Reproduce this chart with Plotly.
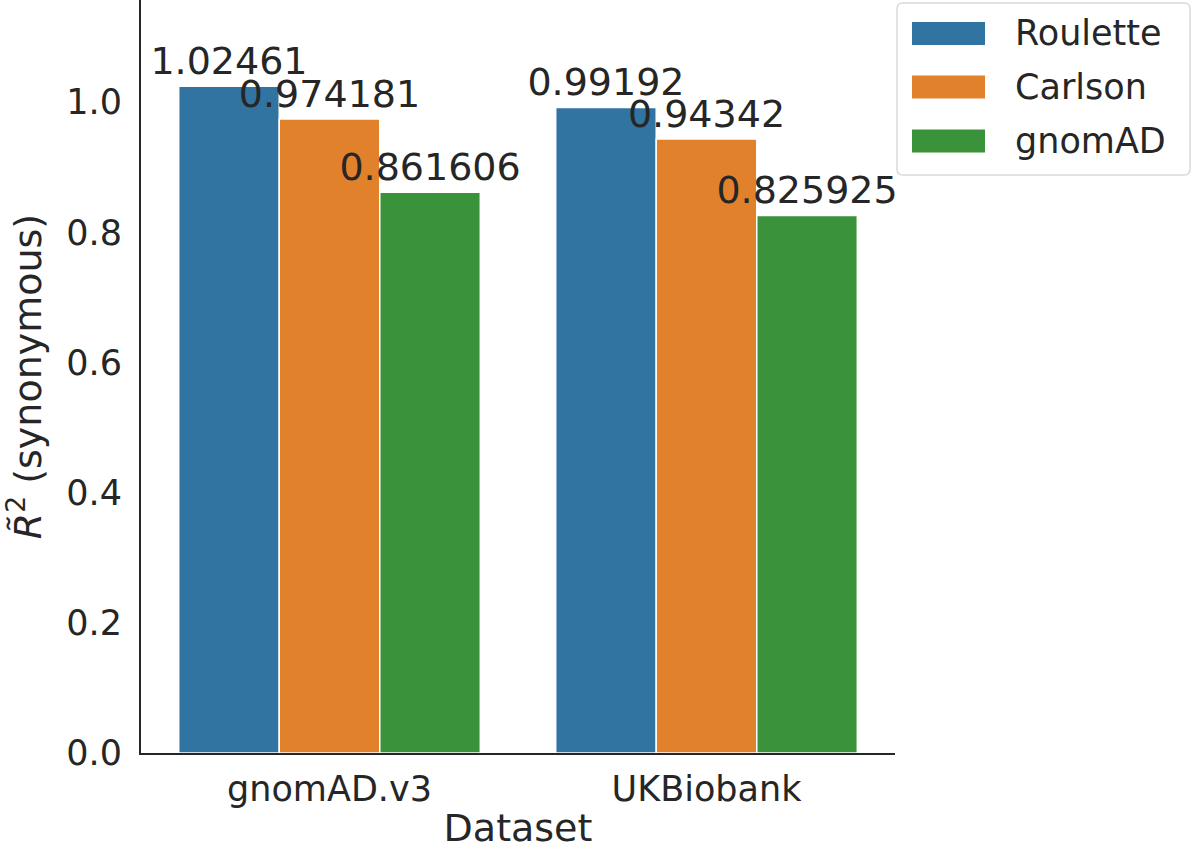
import plotly.graph_objects as go

datasets = ["gnomAD.v3", "UKBiobank"]
methods = ["Roulette", "Carlson", "gnomAD"]
roulette = [1.02461, 0.99192]
carlson = [0.974181, 0.94342]
gnomad = [0.861606, 0.825925]
label_roulette = ["1.02461", "0.99192"]
label_carlson = ["0.974181", "0.94342"]
label_gnomad = ["0.861606", "0.825925"]
colors = ["#3274a1", "#e1812c", "#3a923a"]

values = [roulette, carlson, gnomad]
labels = [label_roulette, label_carlson, label_gnomad]

FONT = "DejaVu Sans"
INK = "#262626"

fig = go.Figure()
for name, vals, labs, col in zip(methods, values, labels, colors):
    fig.add_trace(go.Bar(
        x=datasets, y=vals, name=name,
        marker=dict(color=col, line=dict(color="white", width=1.5)),
        text=labs, textposition="outside", constraintext="none",
        textfont=dict(family=FONT, size=38, color=INK),
        cliponaxis=False, showlegend=False,
    ))

# plot area in pixels
L, R, T, B = 141, 895, 0, 753
W, H = R - L, B - T

def px(x):
    return (x - L) / W

def py(y):
    return (B - y) / H

shapes = []
annotations = []
# legend box with rounded corners
bx0, bx1, by0, by1 = 897, 1190, 3, 175
r = 6
path = (
    f"M {px(bx0 + r)},{py(by0)} L {px(bx1 - r)},{py(by0)} "
    f"Q {px(bx1)},{py(by0)} {px(bx1)},{py(by0 + r)} "
    f"L {px(bx1)},{py(by1 - r)} Q {px(bx1)},{py(by1)} {px(bx1 - r)},{py(by1)} "
    f"L {px(bx0 + r)},{py(by1)} Q {px(bx0)},{py(by1)} {px(bx0)},{py(by1 - r)} "
    f"L {px(bx0)},{py(by0 + r)} Q {px(bx0)},{py(by0)} {px(bx0 + r)},{py(by0)} Z"
)
shapes.append(dict(type="path", xref="paper", yref="paper", path=path,
                   line=dict(color="#d9d9d9", width=1.5), fillcolor="white"))
centers = [33.5, 87, 141]
for name, col, cy in zip(methods, colors, centers):
    shapes.append(dict(type="rect", xref="paper", yref="paper",
                       x0=px(912), x1=px(985), y0=py(cy + 11.5), y1=py(cy - 11.5),
                       fillcolor=col, line=dict(width=0)))
    annotations.append(dict(xref="paper", yref="paper", x=px(1013), y=py(cy),
                            xanchor="left", yanchor="middle", text=name,
                            showarrow=False,
                            font=dict(family=FONT, size=35, color=INK)))

fig.update_layout(
    width=1200, height=850,
    margin=dict(l=L, r=1200 - R, t=T, b=850 - B),
    paper_bgcolor="white", plot_bgcolor="white",
    barmode="group", bargap=0.2, bargroupgap=0,
    font=dict(family=FONT, color=INK),
    shapes=shapes, annotations=annotations,
    showlegend=False,
    xaxis=dict(
        title=dict(text="Dataset", font=dict(family=FONT, size=38, color=INK), standoff=12),
        tickfont=dict(family=FONT, size=35, color=INK),
        showline=True, linecolor=INK, linewidth=2, ticks="",
        showgrid=False, zeroline=False, range=[-0.5, 1.5],
        ticklabelstandoff=4,
    ),
    yaxis=dict(
        title=dict(text="<i>R\u0303</i><sup>2</sup> (synonymous)",
                   font=dict(family=FONT, size=38, color=INK), standoff=16),
        tickfont=dict(family=FONT, size=35, color=INK),
        showline=True, linecolor=INK, linewidth=2, ticks="",
        showgrid=False, zeroline=False,
        range=[0, 1.157], tickvals=[0, 0.2, 0.4, 0.6, 0.8, 1.0],
        ticktext=["0.0", "0.2", "0.4", "0.6", "0.8", "1.0"],
        ticklabelstandoff=10,
    ),
)

fig.write_html("out.html", config={"displayModeBar": False},
               post_script="document.body.style.margin='0';")
